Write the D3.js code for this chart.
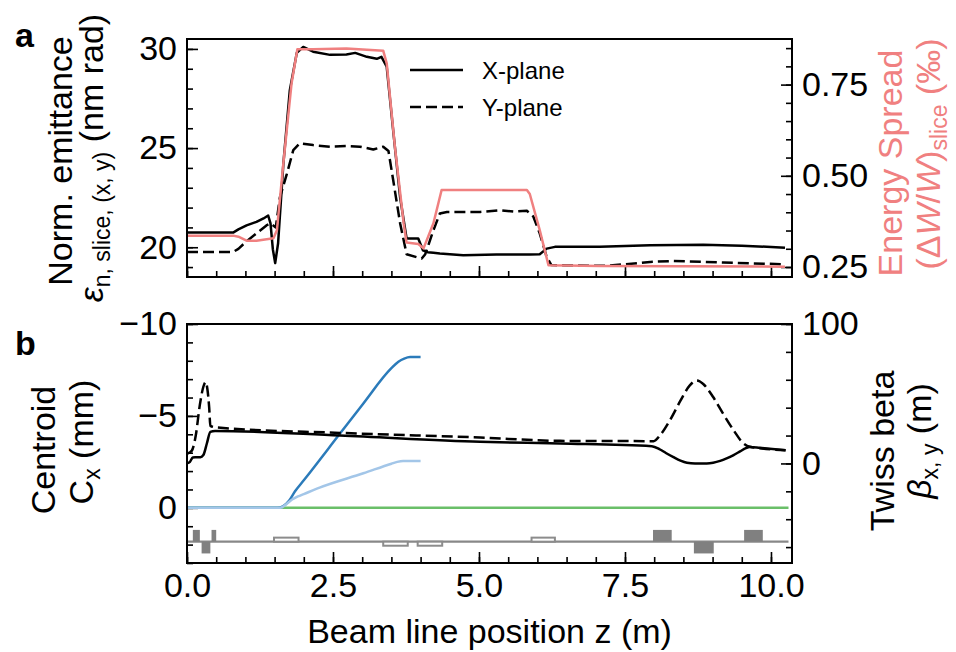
<!DOCTYPE html>
<html>
<head>
<meta charset="utf-8">
<script src="https://cdn.jsdelivr.net/npm/d3@7"></script>
<style>
  body { margin: 0; background: #fff; }
  svg text { font-family: "Liberation Sans", Arial, sans-serif; }
</style>
</head>
<body>
<div id="chart"></div>
<script>
// ---- data ----
// panel a: slice emittance (nm rad) along the beam line z (m)
const emitX = [[0,20.74],[0.79,20.74],[0.88,20.9],[1.02,21.1],[1.19,21.28],[1.31,21.45],[1.39,21.6],[1.43,21.2],[1.47,19.9],[1.51,19.2],[1.56,20.2],[1.65,24.2],[1.76,27.9],[1.88,29.8],[1.99,30.1],[2.16,29.86],[2.45,29.7],[2.73,29.72],[2.88,29.8],[3.08,29.6],[3.25,29.5],[3.33,29.6],[3.42,29.1],[3.53,25.9],[3.65,22.5],[3.76,20.44],[3.96,20.44],[4.04,19.85],[4.12,19.75],[4.22,19.72],[4.33,19.68],[4.73,19.6],[5.3,19.63],[5.87,19.63],[6.04,19.65],[6.16,19.93],[6.3,20.02],[7.07,20.02],[7.93,20.1],[8.84,20.12],[9.5,20.08],[10.24,19.98]];
const emitY = [[0,19.76],[0.79,19.76],[0.88,19.92],[1.02,20.3],[1.19,20.7],[1.36,21.1],[1.43,21.2],[1.52,21.0],[1.59,22.5],[1.71,23.7],[1.82,24.9],[1.93,25.24],[2.16,25.15],[2.45,25.07],[2.73,25.1],[2.96,25.07],[3.19,24.93],[3.36,25.07],[3.45,24.85],[3.53,23.4],[3.65,21.2],[3.76,19.65],[3.93,19.5],[4.02,19.43],[4.08,19.65],[4.22,20.86],[4.33,21.7],[4.45,21.78],[5.02,21.78],[5.36,21.87],[5.59,21.8],[5.82,21.84],[5.93,21.55],[6.04,20.7],[6.16,19.5],[6.24,19.1],[7.19,19.06],[7.93,19.26],[8.33,19.31],[9.18,19.23],[10.24,19.14]];
// panel a: slice energy spread (per mille), right axis
const spread = [[0,0.336],[0.79,0.336],[0.88,0.333],[1.02,0.322],[1.19,0.322],[1.48,0.329],[1.54,0.351],[1.65,0.534],[1.79,0.753],[1.89,0.847],[2.16,0.847],[2.73,0.849],[3.36,0.843],[3.42,0.808],[3.56,0.58],[3.71,0.37],[3.76,0.317],[3.96,0.313],[4.05,0.301],[4.22,0.37],[4.36,0.461],[5.82,0.461],[5.87,0.45],[6.04,0.351],[6.19,0.255],[7.07,0.253],[10.24,0.251]];

// panel b: centroid C_x (mm), left axis (inverted)
const centroidA = [[0,0],[1.55,0],[1.65,-0.1],[1.75,-0.4],[1.85,-0.9],[2.0,-1.5],[2.61,-4.0],[3.0,-5.6],[3.5,-7.6],[3.62,-7.95],[3.72,-8.12],[3.82,-8.2],[4.0,-8.2]];
const centroidB = [[0,0],[1.6,0],[1.7,-0.2],[1.8,-0.45],[1.9,-0.62],[2.0,-0.75],[2.27,-1.1],[3.02,-1.88],[3.5,-2.4],[3.6,-2.5],[3.7,-2.55],[4.0,-2.55]];
const centroidRef = [[0,0],[10.3,0]];
// panel b: Twiss beta (m), right axis
const betaX = [[0,0],[0.05,1.2],[0.1,4.3],[0.14,4.5],[0.23,4.5],[0.28,6],[0.34,14.3],[0.4,22.6],[0.48,23.3],[2.62,20.0],[5.02,15.5],[6.39,14.3],[7.96,12.4],[8.1,10],[8.2,7.5],[8.33,4.5],[8.45,2],[8.56,0.5],[8.7,0],[8.78,0],[8.9,0],[9.01,0.5],[9.13,1.8],[9.24,3.6],[9.36,6],[9.47,8.6],[9.57,11],[9.64,11.8],[9.81,11.2],[10.25,9.5]];
const betaY = [[0,7],[0.08,9],[0.15,20],[0.22,42],[0.28,55],[0.32,58.3],[0.35,53],[0.38,40],[0.4,27],[0.5,25.8],[2.62,21.9],[5.02,18.6],[6.39,16.2],[7.99,16],[8.1,20.2],[8.27,31],[8.45,45],[8.61,56],[8.73,59.5],[8.84,57],[9.01,47.6],[9.18,35.7],[9.36,23.8],[9.53,14.3],[9.64,11.9],[10.25,9.5]];

// panel b: beam line lattice sketch (drawn in C_x units)
const latticeStart = [0.10, 0.25, 0.42, 1.49, 3.36, 3.95, 5.90, 7.98, 8.68, 9.54];
const latticeEnd   = [0.22, 0.40, 0.50, 1.91, 3.78, 4.37, 6.30, 8.30, 9.02, 9.86];
const latticeSide  = [1, -1, 1, 1, -1, -1, 1, 1, -1, 1];   // 1 = above the line
const latticeFilled = [true, true, true, false, false, false, false, true, true, true];
const latticeBase = 1.84;

// tick values
const zTicks = [0, 2.5, 5, 7.5, 10];
const emitTicks = [20, 25, 30];
const spreadTicks = [0.25, 0.5, 0.75];
const centroidTicks = [-10, -5, 0];
const betaTicks = [0, 100];
const legendLabels = ["X-plane", "Y-plane"];

// ---- layout ----
const width = 956, height = 652;
const panelA = { left: 187, right: 792, top: 39, bottom: 277 };
const panelB = { left: 187, right: 792, top: 324, bottom: 563 };
const FONT = 34;
const red = "#f08080";

const svg = d3.select("#chart").append("svg")
  .attr("width", width)
  .attr("height", height);

// scales
const xScale = d3.scaleLinear().domain([0, 10.36]).range([panelA.left, panelA.right]);
const yEmit = d3.scaleLinear().domain([18.5, 30.5]).range([panelA.bottom, panelA.top]);
const ySpread = d3.scaleLinear().domain([0.2226, 0.875]).range([panelA.bottom, panelA.top]);
const yCent = d3.scaleLinear().domain([3, -10]).range([panelB.bottom, panelB.top]);
const yBeta = d3.scaleLinear().domain([-71.4, 100]).range([panelB.bottom, panelB.top]);

// inward ticks: minor first, then labelled major ones
function addAxis(axisFn, scale, major, minor, fmt, tx, ty) {
  const gMinor = svg.append("g")
    .attr("transform", `translate(${tx},${ty})`)
    .call(axisFn(scale).tickValues(minor).tickSize(-6).tickFormat(""));
  const gMajor = svg.append("g")
    .attr("transform", `translate(${tx},${ty})`)
    .call(axisFn(scale).tickValues(major).tickSize(-11).tickPadding(10).tickFormat(fmt));
  [gMinor, gMajor].forEach((g) => {
    g.select(".domain").remove();
    g.selectAll(".tick line").attr("stroke", "#000").attr("stroke-width", 1.6);
    g.selectAll("text")
      .attr("font-size", FONT)
      .attr("font-family", "Liberation Sans, Arial, sans-serif")
      .attr("fill", "#000");
  });
}

const zMinor = d3.range(0, 10.36, 0.5);

// panel a axes
addAxis(d3.axisBottom, xScale, zTicks, zMinor, () => "", 0, panelA.bottom);
addAxis(d3.axisLeft, yEmit, emitTicks, d3.range(19, 31, 1), d3.format("d"), panelA.left, 0);
addAxis(d3.axisRight, ySpread, spreadTicks, d3.range(0.25, 0.876, 0.05), d3.format(".2f"), panelA.right, 0);

// panel b axes
addAxis(d3.axisBottom, xScale, zTicks, zMinor, d3.format(".1f"), 0, panelB.bottom);
addAxis(d3.axisLeft, yCent, centroidTicks, d3.range(-10, 3.1, 1), d3.format("d"), panelB.left, 0);
addAxis(d3.axisRight, yBeta, betaTicks, d3.range(-60, 101, 20), d3.format("d"), panelB.right, 0);

// line generators
const lineOn = (yScale, curve) => d3.line()
  .x((d) => xScale(d[0]))
  .y((d) => yScale(d[1]))
  .curve(curve || d3.curveLinear);

function drawLine(data, gen, color, dashed) {
  svg.append("path")
    .datum(data)
    .attr("d", gen)
    .attr("fill", "none")
    .attr("stroke", color)
    .attr("stroke-width", 2.5)
    .attr("stroke-linejoin", "round")
    .attr("stroke-dasharray", dashed ? "11,5" : null);
}

// panel a lines
drawLine(emitX, lineOn(yEmit), "#000", false);
drawLine(emitY, lineOn(yEmit), "#000", true);
drawLine(spread, lineOn(ySpread), red, false);

// panel b lines
drawLine(centroidRef, lineOn(yCent), "#6abf69", false);
drawLine(centroidA, lineOn(yCent, d3.curveMonotoneX), "#2b7bba", false);
drawLine(centroidB, lineOn(yCent, d3.curveMonotoneX), "#a3c6e8", false);
drawLine(betaX, lineOn(yBeta, d3.curveMonotoneX), "#000", false);
drawLine(betaY, lineOn(yBeta, d3.curveMonotoneX), "#000", true);

// lattice: grey base line with magnet boxes
svg.append("line")
  .attr("x1", xScale(0)).attr("x2", xScale(10.3))
  .attr("y1", yCent(latticeBase)).attr("y2", yCent(latticeBase))
  .attr("stroke", "#888").attr("stroke-width", 2.2);

latticeStart.forEach((s, i) => {
  const h = latticeFilled[i] ? 0.64 : 0.22;
  const edge = latticeBase - latticeSide[i] * h;
  const y0 = Math.min(yCent(latticeBase), yCent(edge));
  svg.append("rect")
    .attr("x", xScale(s))
    .attr("y", y0)
    .attr("width", xScale(latticeEnd[i]) - xScale(s))
    .attr("height", Math.abs(yCent(edge) - yCent(latticeBase)))
    .attr("fill", latticeFilled[i] ? "#808080" : "#fff")
    .attr("stroke", latticeFilled[i] ? "none" : "#8c8c8c")
    .attr("stroke-width", 2);
});

// frames
[panelA, panelB].forEach((p) => {
  svg.append("rect")
    .attr("x", p.left).attr("y", p.top)
    .attr("width", p.right - p.left).attr("height", p.bottom - p.top)
    .attr("fill", "none").attr("stroke", "#000").attr("stroke-width", 2);
});

// legend
legendLabels.forEach((label, i) => {
  const y = 70 + i * 37;
  svg.append("line")
    .attr("x1", 410).attr("x2", 463).attr("y1", y).attr("y2", y)
    .attr("stroke", "#000").attr("stroke-width", 2.5)
    .attr("stroke-dasharray", i === 1 ? "11,5" : null);
  svg.append("text")
    .attr("x", 482).attr("y", y + 8.5)
    .attr("font-size", 24)
    .text(label);
});

// panel letters
svg.append("text").attr("x", 15).attr("y", 47).attr("font-size", FONT).attr("font-weight", "bold").text("a");
svg.append("text").attr("x", 15).attr("y", 355).attr("font-size", FONT).attr("font-weight", "bold").text("b");

// rotated axis titles, built from tspans so subscripts stay real text
function vLabel(x, y, color, parts) {
  const t = svg.append("text")
    .attr("transform", `translate(${x},${y}) rotate(-90)`)
    .attr("text-anchor", "middle")
    .attr("font-size", FONT)
    .attr("fill", color);
  parts.forEach((p) => {
    const s = t.append("tspan").text(p.text);
    if (p.italic) s.attr("font-style", "italic");
    if (p.sub) s.attr("font-size", 23).attr("dy", 7);
    if (p.up) s.attr("dy", -7);
  });
}

vLabel(72, 161, "#000", [{ text: "Norm. emittance" }]);
vLabel(103, 158, "#000", [
  { text: "ε", italic: true },
  { text: "n, slice, (x, y)", sub: true },
  { text: " (nm rad)", up: true }
]);
vLabel(902, 163, red, [{ text: "Energy Spread" }]);
vLabel(940, 154, red, [
  { text: "(Δ" },
  { text: "W", italic: true },
  { text: "/" },
  { text: "W", italic: true },
  { text: ")" },
  { text: "slice", sub: true },
  { text: " (‰)", up: true }
]);
vLabel(55, 450, "#000", [{ text: "Centroid" }]);
vLabel(93, 442, "#000", [
  { text: "C" },
  { text: "x", sub: true },
  { text: " (mm)", up: true }
]);
vLabel(894, 451, "#000", [{ text: "Twiss beta" }]);
vLabel(931, 441, "#000", [
  { text: "β", italic: true },
  { text: "x, y", sub: true },
  { text: " (m)", up: true }
]);

// x axis title
svg.append("text")
  .attr("x", (panelB.left + panelB.right) / 2)
  .attr("y", 643)
  .attr("text-anchor", "middle")
  .attr("font-size", FONT)
  .text("Beam line position z (m)");
</script>
</body>
</html>
